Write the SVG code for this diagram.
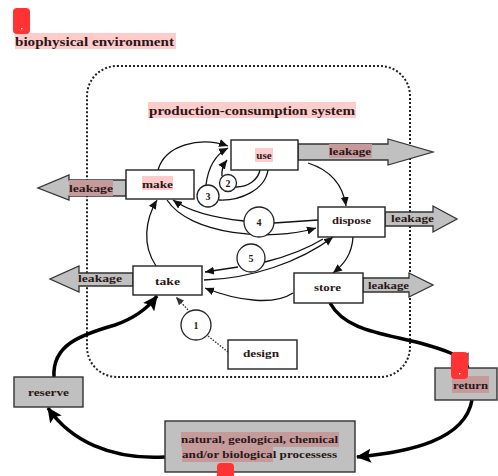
<svg xmlns="http://www.w3.org/2000/svg" width="498" height="476" viewBox="0 0 498 476">
<defs>
<style>
.t{font-family:"Liberation Serif","Times New Roman",serif;font-weight:bold;fill:#2a1616;}
.n{font-size:11px;}
.box{fill:#fff;stroke:#222;stroke-width:1.4;}
.gbox{fill:#c0c0c0;stroke:#333;stroke-width:1.4;}
.leak{fill:#c0c0c0;stroke:#333;stroke-width:1.3;}
.hl{fill:#ffcccc;}
.hlg{fill:#c49a9a;}
.c{fill:#fff;stroke:#222;stroke-width:1.3;}
.ln{fill:none;stroke:#111;stroke-width:1.3;}
.dl{fill:none;stroke:#333;stroke-width:1.4;stroke-dasharray:1.5 1.5;}
.db{fill:none;stroke:#222;stroke-width:2;stroke-dasharray:2 2;}
.tk{fill:none;stroke:#000;stroke-width:3.5;}
.mk{fill:#ff3333;}
</style>
<marker id="a" markerUnits="userSpaceOnUse" markerWidth="10" markerHeight="10" refX="9" refY="5" orient="auto"><path d="M0,1 L9,5 L0,9 Z" fill="#111"/></marker>
<marker id="ad" markerUnits="userSpaceOnUse" markerWidth="9" markerHeight="9" refX="8" refY="4.5" orient="auto"><path d="M0,1 L8,4.5 L0,8 Z" fill="#333"/></marker>
<marker id="ab" markerUnits="userSpaceOnUse" markerWidth="16" markerHeight="14" refX="14" refY="7" orient="auto"><path d="M0,0 L15,7 L0,14 L3,7 Z" fill="#000"/></marker>
</defs>
<rect width="498" height="476" fill="#fff"/>

<g id="environment">
<rect class="hl" x="15" y="33" width="161" height="16"/>
<text class="t" x="15" y="46" font-size="12" textLength="159" lengthAdjust="spacingAndGlyphs">biophysical environment</text>
</g>

<g id="system">
<rect class="db" x="87" y="66" width="323" height="311" rx="30" ry="30"/>
<rect class="hl" x="148" y="102" width="208" height="16"/>
<text class="t" x="149" y="115" font-size="12" textLength="206" lengthAdjust="spacingAndGlyphs">production-consumption system</text>
</g>

<g id="leakages">
<polygon class="leak" points="298,144 388,144 388,139 433,152 388,165 388,160 298,160"/>
<rect class="hlg" x="329" y="144" width="43" height="14"/>
<text class="t n" x="329" y="155" textLength="42" lengthAdjust="spacingAndGlyphs">leakage</text>
<polygon class="leak" points="385,212 433,212 433,206 457,219 433,232 433,226 385,226"/>
<text class="t n" x="391" y="222" textLength="43" lengthAdjust="spacingAndGlyphs">leakage</text>
<polygon class="leak" points="363,278 409,278 409,273 433,285 409,297 409,292 363,292"/>
<text class="t n" x="368" y="289" textLength="41" lengthAdjust="spacingAndGlyphs">leakage</text>
<polygon class="leak" points="126,180 69,180 69,175 38,188 69,200 69,196 126,196"/>
<rect class="hlg" x="69" y="180" width="44" height="16"/>
<text class="t n" x="69" y="192" textLength="44" lengthAdjust="spacingAndGlyphs">leakage</text>
<polygon class="leak" points="133,273 79,273 79,266 50,279 79,292 79,286 133,286"/>
<text class="t n" x="78" y="282" textLength="44" lengthAdjust="spacingAndGlyphs">leakage</text>
</g>

<g id="connectors">
<path class="ln" d="M158,170 C165,145 200,136 228,146" marker-end="url(#a)"/>
<path class="ln" d="M206,185 C208,168 215,155 228,148" marker-end="url(#a)"/>
<path class="ln" d="M222,176 Q221,168 227,160" marker-end="url(#a)"/>
<path class="ln" d="M260,170 C258,180 248,187 236,187"/>
<path class="ln" d="M268,170 C265,190 240,201 219,200"/>
<path class="ln" d="M318,220 L274,223"/>
<path class="ln" d="M244,221 C215,218 190,212 173,200" marker-end="url(#a)"/>
<path class="ln" d="M167,200 C190,235 270,242 316,228" marker-end="url(#a)"/>
<path class="ln" d="M238,267 L205,272" marker-end="url(#a)"/>
<path class="ln" d="M323,239 C305,250 285,257 265,262"/>
<path class="ln" d="M204,280 C250,279 300,262 333,237" marker-end="url(#a)"/>
<path class="ln" d="M293,293 C275,305 240,302 205,288" marker-end="url(#a)"/>
<path class="ln" d="M308,163 C330,170 343,185 346,206" marker-end="url(#a)"/>
<path class="ln" d="M353,237 C352,255 343,265 333,273" marker-end="url(#a)"/>
<path class="ln" d="M156,266 C142,245 145,220 157,200" marker-end="url(#a)"/>
<path class="dl" d="M228,352 L208,336"/>
<path class="dl" d="M190,312 L176,297" marker-end="url(#ad)"/>
<path class="tk" d="M330,303 C345,330 380,333 420,343 C445,350 462,355 468,368" marker-end="url(#ab)"/>
<path class="tk" d="M472,400 C465,440 410,452 357,457" marker-end="url(#ab)"/>
<path class="tk" d="M165,457 C110,460 70,440 48,408" marker-end="url(#ab)"/>
<path class="tk" d="M54,377 C52,345 80,335 115,325 C135,318 148,308 157,296" marker-end="url(#ab)"/>
</g>

<g id="c1"><circle class="c" cx="196" cy="325" r="15"/><text class="t" x="196" y="328.5" font-size="10" text-anchor="middle">1</text></g>
<g id="c2"><circle class="c" cx="228" cy="183" r="8.5"/><text class="t" x="228" y="186.5" font-size="10" text-anchor="middle">2</text></g>
<g id="c3"><circle class="c" cx="208" cy="196" r="11"/><text class="t" x="208" y="199.5" font-size="10" text-anchor="middle">3</text></g>
<g id="c4"><circle class="c" cx="259" cy="222" r="15"/><text class="t" x="259" y="225.5" font-size="10" text-anchor="middle">4</text></g>
<g id="c5"><circle class="c" cx="251" cy="258" r="14"/><text class="t" x="251" y="261.5" font-size="10" text-anchor="middle">5</text></g>

<g id="use"><rect class="box" x="231" y="140" width="67" height="30"/><rect class="hl" x="255" y="148" width="18" height="14"/><text class="t n" x="264" y="159" text-anchor="middle">use</text></g>
<g id="make"><rect class="box" x="126" y="170" width="68" height="29"/><rect class="hl" x="142" y="176" width="31" height="14"/><text class="t n" x="142" y="188" textLength="31" lengthAdjust="spacingAndGlyphs">make</text></g>
<g id="take"><rect class="box" x="133" y="266" width="69" height="29"/><text class="t n" x="155" y="285" textLength="25" lengthAdjust="spacingAndGlyphs">take</text></g>
<g id="dispose"><rect class="box" x="318" y="207" width="67" height="30"/><text class="t n" x="332" y="224" textLength="39" lengthAdjust="spacingAndGlyphs">dispose</text></g>
<g id="store"><rect class="box" x="294" y="273" width="69" height="30"/><text class="t n" x="314" y="291" textLength="27" lengthAdjust="spacingAndGlyphs">store</text></g>
<g id="design"><rect class="box" x="228" y="340" width="69" height="29"/><text class="t n" x="243" y="357" textLength="36" lengthAdjust="spacingAndGlyphs">design</text></g>
<g id="reserve"><rect class="gbox" x="14" y="377" width="69" height="30"/><text class="t n" x="28" y="396" textLength="41" lengthAdjust="spacingAndGlyphs">reserve</text></g>
<g id="return"><rect class="gbox" x="435" y="368" width="62" height="32"/><rect class="hlg" x="452" y="376" width="37" height="17"/><text class="t n" x="453" y="389" textLength="35" lengthAdjust="spacingAndGlyphs">return</text></g>
<g id="natural">
<rect class="gbox" x="165" y="421" width="190" height="51"/>
<rect class="hlg" x="181" y="432" width="158" height="15"/>
<rect class="hlg" x="182" y="447" width="91" height="15"/>
<text class="t n" x="181" y="443" textLength="157" lengthAdjust="spacingAndGlyphs">natural, geological, chemical</text>
<text class="t n" x="182" y="458" textLength="155" lengthAdjust="spacingAndGlyphs">and/or biological processess</text>
</g>

<g id="markers">
<rect class="mk" x="13" y="8" width="17" height="26" rx="4"/><rect x="21" y="28" width="1.5" height="1.5" fill="#fff"/>
<rect class="mk" x="451" y="352" width="17" height="27" rx="4"/><rect x="459" y="373" width="1.5" height="1.5" fill="#fff"/>
<rect class="mk" x="217" y="463" width="17" height="20" rx="4"/>
</g>
</svg>
